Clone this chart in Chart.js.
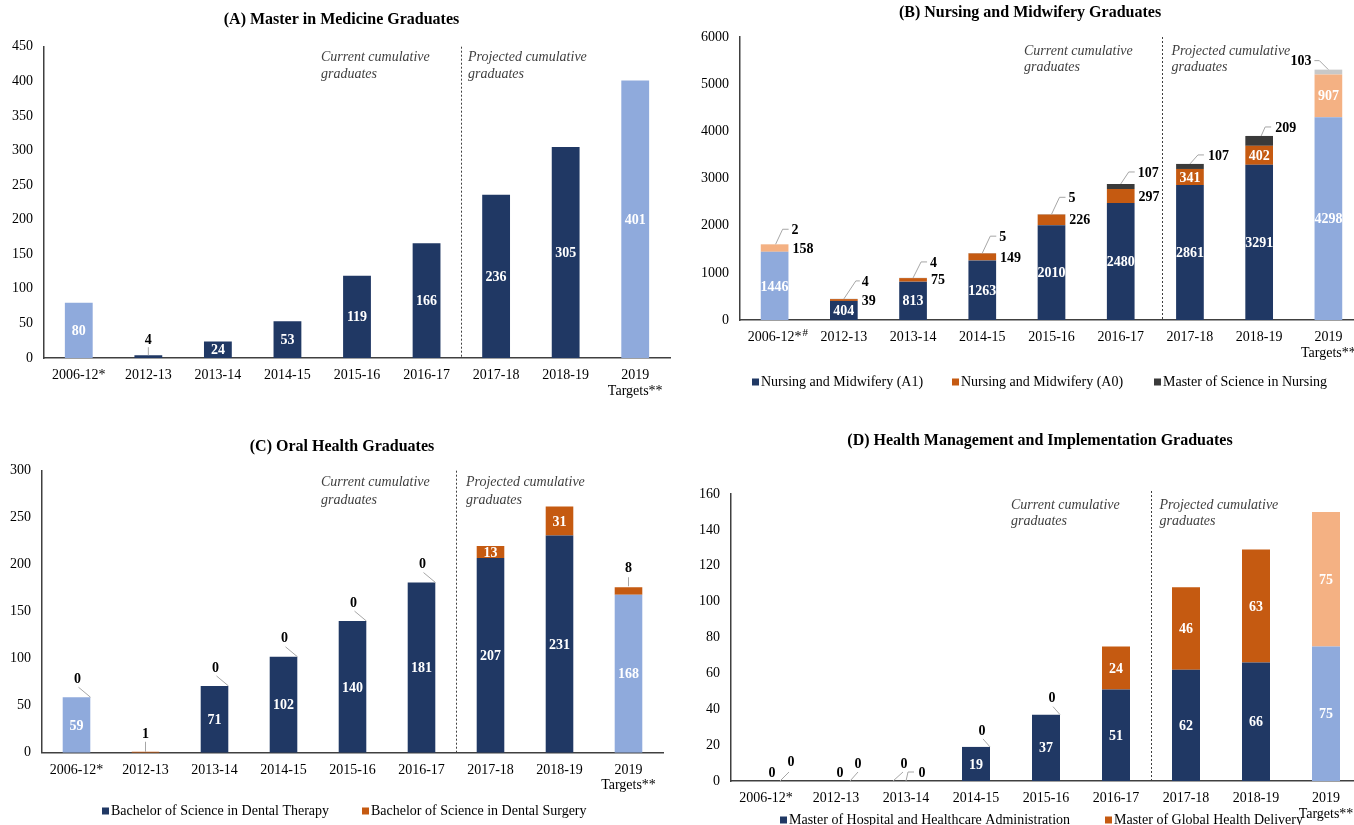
<!DOCTYPE html>
<html>
<head>
<meta charset="utf-8">
<title>Graduates by programme</title>
<script src="https://cdn.jsdelivr.net/npm/chart.js@4.4.1/dist/chart.umd.min.js"></script>
<style>
  html, body { margin: 0; padding: 0; background: #fff; overflow: hidden; width: 1354px; height: 825px; position: relative; }
  canvas { position: absolute; }
</style>
</head>
<body>
<canvas id="panelA" width="680" height="412" style="left:0px;top:0px"></canvas>
<canvas id="panelB" width="690" height="412" style="left:680px;top:0px"></canvas>
<canvas id="panelC" width="680" height="413" style="left:0px;top:412px"></canvas>
<canvas id="panelD" width="690" height="413" style="left:680px;top:412px"></canvas>
<script>
// ---- data ----
const categories = ['2006-12*', '2012-13', '2013-14', '2014-15', '2015-16', '2016-17', '2017-18', '2018-19', ['2019', 'Targets**']];

const medicineGraduates = [80, 4, 24, 53, 119, 166, 236, 305, 401];

const nursingA1 = [1446, 404, 813, 1263, 2010, 2480, 2861, 3291, 4298];
const nursingA0 = [158, 39, 75, 149, 226, 297, 341, 402, 907];
const nursingMSN = [2, 4, 4, 5, 5, 107, 107, 209, 103];

const dentalTherapy = [59, 0, 71, 102, 140, 181, 207, 231, 168];
const dentalSurgery = [0, 1, 0, 0, 0, 0, 13, 31, 8];

const hospitalAdmin = [0, 0, 0, 19, 37, 51, 62, 66, 75];
const globalHealthDelivery = [0, 0, 0, 0, 0, 24, 46, 63, 75];

const yTicksA = { max: 450, step: 50 };
const yTicksB = { max: 6000, step: 1000 };
const yTicksC = { max: 300, step: 50 };
const yTicksD = { max: 160, step: 20 };

// ---- styling ----
const SERIF = '"Liberation Serif", "Times New Roman", serif';
Chart.defaults.font.family = SERIF;
Chart.defaults.color = '#000';

const NAVY = '#203864', LIGHT_BLUE = '#8FAADC';
const ORANGE = '#C55A11', LIGHT_ORANGE = '#F4B183';
const DARK_GREY = '#3A3A3A', LIGHT_GREY = '#C8C8C8';
const AXIS = '#404040', LEADER = '#A6A6A6';

// first (2006-12) and last (target) columns use lighter shades
function shades(base, light, which) {
  return categories.map((_, i) => (which.includes(i) ? light : base));
}

// label placements: 'in' = white, centred in segment; 'right' = beside segment;
// object = leader line (path offsets from segment top centre) + text position
const zeroC = { path: [[14, 0], [2, -10]], at: [1, -19] };
const zeroD = { path: [[14, 0], [7, -8]], at: [6, -17] };
const IN9 = Array(9).fill('in');

function makeOverlay(cfg) {
  return {
    id: 'overlay_' + cfg.key,
    afterDatasetsDraw(chart) {
      const ctx = chart.ctx;
      const area = chart.chartArea;
      const xs = chart.scales.x;
      ctx.save();

      // divider between current and projected columns
      const xd = (xs.getPixelForTick(5) + xs.getPixelForTick(6)) / 2 + (cfg.dividerShift || 0);
      ctx.strokeStyle = AXIS;
      ctx.lineWidth = 1;
      ctx.setLineDash([2, 2]);
      ctx.beginPath();
      ctx.moveTo(Math.round(xd) + 0.5, area.top + (cfg.dividerTop || 0));
      ctx.lineTo(Math.round(xd) + 0.5, area.bottom);
      ctx.stroke();
      ctx.setLineDash([]);

      // title
      ctx.fillStyle = '#000';
      ctx.font = 'bold 16px ' + SERIF;
      ctx.textAlign = 'center';
      ctx.textBaseline = 'middle';
      ctx.fillText(cfg.title, cfg.titlePos[0], cfg.titlePos[1]);

      // period annotations
      ctx.font = 'italic 14px ' + SERIF;
      ctx.fillStyle = '#404040';
      ctx.textAlign = 'left';
      const [cx, px, y1, y2] = cfg.notes;
      ctx.fillText('Current cumulative', cx, y1);
      ctx.fillText('graduates', cx, y2);
      ctx.fillText('Projected cumulative', px, y1);
      ctx.fillText('graduates', px, y2);

      // legend
      if (cfg.legend) {
        ctx.font = '14px ' + SERIF;
        ctx.textBaseline = 'middle';
        cfg.legend.items.forEach((item, k) => {
          const lx = cfg.legend.xs[k];
          const ly = cfg.legend.y;
          ctx.fillStyle = item.color;
          ctx.fillRect(lx, ly - 3.5, 7, 7);
          ctx.fillStyle = '#000';
          ctx.fillText(item.text, lx + 9, ly);
        });
      }

      // superscript marker on first category
      if (cfg.superscript) {
        ctx.font = '14px ' + SERIF;
        const w = ctx.measureText(categories[0]).width;
        const ly = area.bottom + 10 + 7.7;
        ctx.font = '11px ' + SERIF;
        ctx.fillStyle = '#000';
        ctx.textAlign = 'left';
        ctx.fillText(cfg.superscript, xs.getPixelForTick(0) + w / 2 + 1, ly - 5);
      }

      // value labels
      ctx.font = 'bold 14px ' + SERIF;
      ctx.textBaseline = 'middle';
      chart.data.datasets.forEach((ds, di) => {
        const meta = chart.getDatasetMeta(di);
        meta.data.forEach((bar, i) => {
          const spec = cfg.labels[di][i];
          if (!spec) return;
          const text = String(ds.data[i]);
          const p = bar.getProps(['x', 'y', 'base', 'width'], true);
          const top = Math.min(p.y, p.base);
          if (spec === 'in') {
            ctx.fillStyle = '#fff';
            ctx.textAlign = 'center';
            ctx.fillText(text, p.x, (p.y + p.base) / 2 + 1);
          } else if (spec === 'right') {
            ctx.fillStyle = '#000';
            ctx.textAlign = 'left';
            ctx.fillText(text, p.x + p.width / 2 + 4, (p.y + p.base) / 2 + 1);
          } else {
            if (spec.path) {
              ctx.strokeStyle = LEADER;
              ctx.lineWidth = 1;
              ctx.beginPath();
              spec.path.forEach(([dx, dy], k) => {
                const X = p.x + dx, Y = top + dy;
                if (k === 0) ctx.moveTo(X, Y); else ctx.lineTo(X, Y);
              });
              ctx.stroke();
            }
            ctx.fillStyle = '#000';
            ctx.textAlign = spec.align || 'center';
            ctx.fillText(text, p.x + spec.at[0], top + spec.at[1] + 1);
          }
        });
      });
      ctx.restore();
    }
  };
}

function buildChart(id, datasets, yTicks, layout, overlay) {
  return new Chart(document.getElementById(id), {
    type: 'bar',
    data: { labels: categories, datasets },
    options: {
      responsive: false,
      animation: false,
      devicePixelRatio: 1,
      layout: { padding: layout.padding },
      datasets: { bar: { barPercentage: 0.8, categoryPercentage: 0.5 } },
      plugins: { legend: { display: false }, tooltip: { enabled: false }, title: { display: false } },
      scales: {
        x: {
          stacked: true,
          grid: { display: false, drawTicks: false },
          border: { display: true, color: AXIS, width: 1.5 },
          ticks: { autoSkip: false, maxRotation: 0, padding: 10, color: '#000', font: { size: 14, lineHeight: 1.1 } },
          afterFit: (s) => { s.height = layout.xHeight; }
        },
        y: {
          stacked: true,
          min: 0,
          max: yTicks.max,
          grid: { display: false, drawTicks: false },
          border: { display: true, color: AXIS, width: 1.5 },
          ticks: { stepSize: yTicks.step, padding: 11, color: '#000', font: { size: 14 }, callback: (v) => String(v) },
          afterFit: (s) => { s.width = layout.yWidth; }
        }
      }
    },
    plugins: [overlay]
  });
}

// (A) Master in Medicine
buildChart('panelA', [
  { label: 'Master in Medicine', data: medicineGraduates, backgroundColor: shades(NAVY, LIGHT_BLUE, [0, 8]) }
], yTicksA,
  { padding: { left: 0, top: 46.7, right: 10, bottom: 9 }, xHeight: 45, yWidth: 44 },
  makeOverlay({
    key: 'A',
    title: '(A) Master in Medicine Graduates', titlePos: [341.5, 20],
    notes: [321, 468, 57.5, 74.5],
    labels: [['in', { path: [[0, 0], [0, -8]], at: [0, -16] }, 'in', 'in', 'in', 'in', 'in', 'in', 'in']]
  })
);

// (B) Nursing and Midwifery
buildChart('panelB', [
  { label: 'Nursing and Midwifery (A1)', data: nursingA1, backgroundColor: shades(NAVY, LIGHT_BLUE, [0, 8]) },
  { label: 'Nursing and Midwifery (A0)', data: nursingA0, backgroundColor: shades(ORANGE, LIGHT_ORANGE, [0, 8]) },
  { label: 'Master of Science in Nursing', data: nursingMSN, backgroundColor: shades(DARK_GREY, LIGHT_GREY, [0, 8]) }
], yTicksB,
  { padding: { left: 0, top: 37, right: 7, bottom: 47 }, xHeight: 45, yWidth: 60 },
  makeOverlay({
    key: 'B',
    title: '(B) Nursing and Midwifery Graduates', titlePos: [350, 13],
    notes: [344, 491.5, 51, 67],
    dividerShift: 7,
    superscript: '#',
    legend: {
      y: 382, xs: [72, 272, 474],
      items: [
        { text: 'Nursing and Midwifery (A1)', color: NAVY },
        { text: 'Nursing and Midwifery (A0)', color: ORANGE },
        { text: 'Master of Science in Nursing', color: DARK_GREY }
      ]
    },
    labels: [
      IN9,
      ['right', 'right', 'right', 'right', 'right', 'right', 'in', 'in', 'in'],
      [
        { path: [[1, 0], [8, -15], [14, -15]], at: [17, -15], align: 'left' },
        { path: [[0, 0], [12, -18], [16, -18]], at: [18, -18], align: 'left' },
        { path: [[0, 0], [8, -16], [14, -16]], at: [17, -16], align: 'left' },
        { path: [[0, 0], [8, -17], [14, -17]], at: [17, -17], align: 'left' },
        { path: [[0, 0], [8, -17], [14, -17]], at: [17, -17], align: 'left' },
        { path: [[0, 0], [8, -12], [14, -12]], at: [17, -12], align: 'left' },
        { path: [[0, 0], [8, -9], [14, -9]], at: [18, -9], align: 'left' },
        { path: [[2, 0], [6, -9], [12, -9]], at: [16, -9], align: 'left' },
        { path: [[0, 0], [-9, -9], [-14, -9]], at: [-17, -9], align: 'right' }
      ]
    ]
  })
);

// (C) Oral Health
buildChart('panelC', [
  { label: 'Bachelor of Science in Dental Therapy', data: dentalTherapy, backgroundColor: shades(NAVY, LIGHT_BLUE, [0, 8]) },
  { label: 'Bachelor of Science in Dental Surgery', data: dentalSurgery, backgroundColor: shades(ORANGE, ORANGE, []) }
], yTicksC,
  { padding: { left: 0, top: 58.7, right: 17, bottom: 27.3 }, xHeight: 45, yWidth: 42 },
  makeOverlay({
    key: 'C',
    title: '(C) Oral Health Graduates', titlePos: [342, 35],
    notes: [321, 466, 70.5, 88],
    legend: {
      y: 399, xs: [102, 362],
      items: [
        { text: 'Bachelor of Science in Dental Therapy', color: NAVY },
        { text: 'Bachelor of Science in Dental Surgery', color: ORANGE }
      ]
    },
    labels: [
      ['in', null, 'in', 'in', 'in', 'in', 'in', 'in', 'in'],
      [zeroC, { path: [[0, 0], [0, -10]], at: [0, -18] }, zeroC, zeroC, zeroC, zeroC, 'in', 'in',
        { path: [[0, -1], [0, -10]], at: [0, -20] }]
    ]
  })
);

// (D) Health Management and Implementation
buildChart('panelD', [
  { label: 'Master of Hospital and Healthcare Administration', data: hospitalAdmin, backgroundColor: shades(NAVY, LIGHT_BLUE, [8]) },
  { label: 'Master of Global Health Delivery', data: globalHealthDelivery, backgroundColor: shades(ORANGE, LIGHT_ORANGE, [8]) }
], yTicksD,
  { padding: { left: 0, top: 82, right: 9, bottom: 4 }, xHeight: 40, yWidth: 51 },
  makeOverlay({
    key: 'D',
    title: '(D) Health Management and Implementation Graduates', titlePos: [360, 29],
    notes: [331, 479.5, 93.5, 109.5],
    dividerTop: -3,
    legend: {
      y: 408, xs: [100, 425],
      items: [
        { text: 'Master of Hospital and Healthcare Administration', color: NAVY },
        { text: 'Master of Global Health Delivery', color: ORANGE }
      ]
    },
    labels: [
      [{ at: [6, -9] }, { at: [4, -9] }, { path: [[-13, 0], [-3, -9]], at: [-2, -18] }, 'in', 'in', 'in', 'in', 'in', 'in'],
      [{ path: [[14, 0], [23, -9]], at: [25, -20] }, { path: [[14, 0], [22, -9]], at: [22, -18] },
        { path: [[0, 0], [2, -9], [8, -9]], at: [16, -9] }, zeroD, zeroD, 'in', 'in', 'in', 'in']
    ]
  })
);
</script>
</body>
</html>
